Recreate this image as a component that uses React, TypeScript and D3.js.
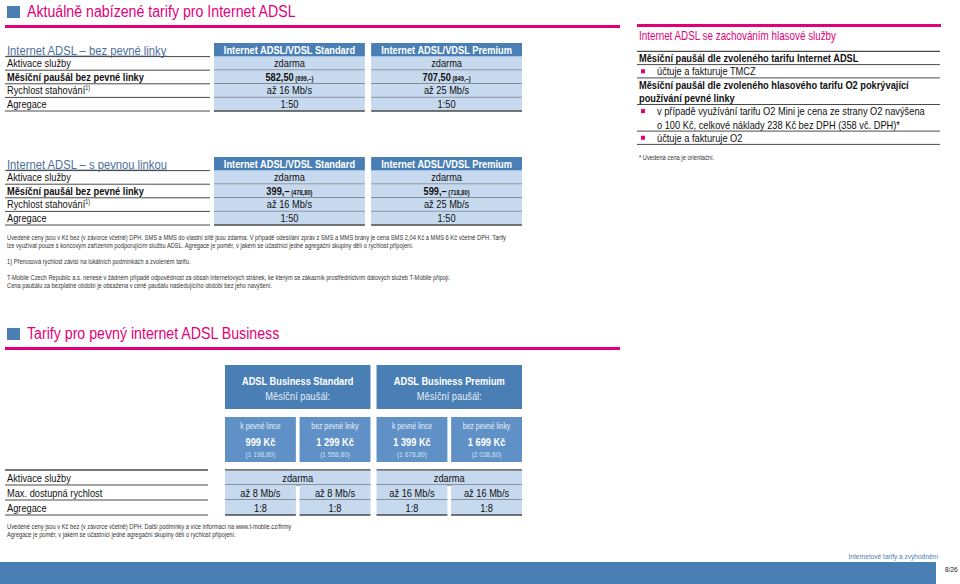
import React from "react";
import * as d3 from "d3";

const MAGENTA = "#e2007a";
const BLUE = "#4a7fb5";
const SUB_BLUE = "#5f91c7";
const CELL = "#c6d9ee";
const RULE = "#4a4a4a";
const FONT = "'Liberation Sans', Arial, sans-serif";
const NARROW = 0.82; // Arial Narrow look

// ADSL / VDSL tables
const adslTariffs = ["Internet ADSL/VDSL Standard", "Internet ADSL/VDSL Premium"];
const adslRowLabels = ["Aktivace služby", "Měsíční paušál bez pevné linky", "Rychlost stahování", "Agregace"];
const adslActivation = ["zdarma", "zdarma"];
const priceBez = ["582,50", "707,50"];
const priceBezVat = ["(699,–)", "(849,–)"];
const priceS = ["399,–", "599,–"];
const priceSVat = ["(478,80)", "(718,80)"];
const adslSpeed = ["až 16 Mb/s", "až 25 Mb/s"];
const adslAggregation = ["1:50", "1:50"];

// right panel
const voiceRows = [
  { text: "Měsíční paušál dle zvoleného tarifu Internet ADSL", bold: true, bullet: false, rule: true },
  { text: "účtuje a fakturuje TMCZ", bold: false, bullet: true, rule: true },
  { text: "Měsíční paušál dle zvoleného hlasového tarifu O2 pokrývající", bold: true, bullet: false, rule: false },
  { text: "používání pevné linky", bold: true, bullet: false, rule: true },
  { text: "v případě využívání tarifu O2 Mini je cena ze strany O2 navýšena", bold: false, bullet: true, rule: false },
  { text: "o 100 Kč, celkové náklady 238 Kč bez DPH (358 vč. DPH)*", bold: false, bullet: false, rule: true },
  { text: "účtuje a fakturuje O2", bold: false, bullet: true, rule: true },
];

// business table
const businessTariffs = ["ADSL Business Standard", "ADSL Business Premium"];
const businessVariants = ["k pevné lince", "bez pevné linky"];
const businessPrice = [["999 Kč", "1 299 Kč"], ["1 399 Kč", "1 699 Kč"]];
const businessPriceVat = [["(1 198,80)", "(1 558,80)"], ["(1 678,80)", "(2 038,80)"]];
const businessRowLabels = ["Aktivace služby", "Max. dostupná rychlost", "Agregace"];
const businessActivation = ["zdarma", "zdarma"];
const businessSpeed = [["až 8 Mb/s", "až 8 Mb/s"], ["až 16 Mb/s", "až 16 Mb/s"]];
const businessAggregation = [["1:8", "1:8"], ["1:8", "1:8"]];

const notesAdsl = [
  "Uvedené ceny jsou v Kč bez (v závorce včetně) DPH. SMS a MMS do vlastní sítě jsou zdarma. V případě odesílání zpráv z SMS a MMS brány je cena SMS 2,04 Kč a MMS 6 Kč včetně DPH. Tarify",
  "lze využívat pouze s koncovým zařízením podporujícím službu ADSL. Agregace je poměr, v jakém se účastníci jedné agregační skupiny dělí o rychlost připojení.",
  "",
  "1) Přenosová rychlost závisí na lokálních podmínkách a zvoleném tarifu.",
  "",
  "T-Mobile Czech Republic a.s. nenese v žádném případě odpovědnost za obsah internetových stránek, ke kterým se zákazník prostřednictvím datových služeb T-Mobile připojí.",
  "Cena paušálu za bezplatné období je obsažena v ceně paušálu následujícího období bez jeho navýšení.",
];
const notesBusiness = [
  "Uvedené ceny jsou v Kč bez (v závorce včetně) DPH. Další podmínky a více informací na www.t-mobile.cz/firmy",
  "Agregace je poměr, v jakém se účastníci jedné agregační skupiny dělí o rychlost připojení.",
];

const LABEL = 11.3;
const NOTE = 7.0;

// condensed text: Liberation Sans squeezed horizontally
function T({ x, y, sx = NARROW, children, ...rest }: any) {
  return (
    <text transform={`translate(${x},${y}) scale(${sx},1)`} {...rest}>
      {children}
    </text>
  );
}

const x = d3.scaleBand<string>().domain(adslTariffs).range([214, 522]).paddingInner(0.04);

function SectionTitle({ y, text }: { y: number; text: string }) {
  return (
    <g>
      <rect x={7} y={y - 11} width={13} height={12} fill={BLUE} />
      <T x={27} y={y} fontSize={17.3} fill={MAGENTA}>{text}</T>
      <rect x={5} y={y + 8} width={615} height={3} fill={MAGENTA} />
    </g>
  );
}

function AdslTable({ top, title, price, vat }: { top: number; title: string; price: string[]; vat: string[] }) {
  const y = d3.scaleBand<string>().domain(["head", ...adslRowLabels]).range([top, top + 68]);
  const values = [adslActivation, price, adslSpeed, adslAggregation];
  const bw = y.bandwidth();
  return (
    <g>
      <T x={7} y={top + 11.5} fontSize={13.7} fill="#4b6f99" textDecoration="underline">{title}</T>
      {y.domain().map((r) => (
        <line key={r} x1={5} x2={210} y1={y(r)! + bw} y2={y(r)! + bw} stroke={RULE} strokeWidth={1} />
      ))}
      {adslRowLabels.map((r, i) => (
        <T key={r} x={7} y={y(r)! + bw - 3} fontSize={LABEL} fontWeight={i === 1 ? "bold" : "normal"} fill="#111">
          {r}
          {i === 2 && <tspan fontSize={6.5} dy={-4}>1)</tspan>}
        </T>
      ))}
      {adslTariffs.map((t, c) => (
        <g key={t}>
          <rect x={x(t)} y={y("head")} width={x.bandwidth()} height={bw} fill={BLUE} />
          <T x={x(t)! + x.bandwidth() / 2} y={y("head")! + bw - 3} fontSize={LABEL} fontWeight="bold" fill="#fff" textAnchor="middle">{t}</T>
          {adslRowLabels.map((r, i) => (
            <g key={r}>
              <rect x={x(t)} y={y(r)} width={x.bandwidth()} height={bw} fill={CELL} />
              <line x1={x(t)} x2={x(t)! + x.bandwidth()} y1={y(r)! + bw} y2={y(r)! + bw} stroke={RULE} strokeWidth={i === 3 ? 1.5 : 1} />
              <T x={x(t)! + x.bandwidth() / 2} y={y(r)! + bw - 3} fontSize={LABEL} fill="#111" textAnchor="middle" fontWeight={i === 1 ? "bold" : "normal"}>
                {values[i][c]}
                {i === 1 && <tspan fontSize={7}>{" " + vat[c]}</tspan>}
              </T>
            </g>
          ))}
        </g>
      ))}
    </g>
  );
}

function VoicePanel() {
  const y = d3.scaleBand<number>().domain(d3.range(voiceRows.length)).range([51.3, 51.3 + 13.3 * voiceRows.length]);
  const bw = y.bandwidth();
  return (
    <g>
      <rect x={637} y={24} width={304} height={3} fill={MAGENTA} />
      <T x={639} y={40} fontSize={12} fill={MAGENTA}>Internet ADSL se zachováním hlasové služby</T>
      <line x1={637} x2={940} y1={51.3} y2={51.3} stroke={RULE} strokeWidth={1.2} />
      {voiceRows.map((r, i) => (
        <g key={i}>
          {r.bullet && <rect x={641} y={y(i)! + bw / 2 - 2} width={4} height={4} fill={MAGENTA} />}
          <T x={r.bold ? 639 : 657} y={y(i)! + bw - 2.5} fontSize={LABEL} fontWeight={r.bold ? "bold" : "normal"} fill="#111">{r.text}</T>
          {r.rule && <line x1={637} x2={940} y1={y(i)! + bw} y2={y(i)! + bw} stroke={RULE} strokeWidth={1} />}
        </g>
      ))}
      <T x={639} y={160} fontSize={NOTE} fill="#333">* Uvedená cena je orientační.</T>
    </g>
  );
}

function BusinessTable() {
  const xb = d3.scaleBand<string>().domain(businessTariffs).range([225, 522]).paddingInner(0.04);
  const xs = d3.scaleBand<string>().domain(businessVariants).range([0, xb.bandwidth()]).paddingInner(0.05);
  const y = d3.scaleBand<string>().domain(businessRowLabels).range([470, 515]);
  const bw = y.bandwidth();
  return (
    <g>
      {businessTariffs.map((t, c) => {
        const x0 = xb(t)!;
        const mid = x0 + xb.bandwidth() / 2;
        return (
          <g key={t}>
            <rect x={x0} y={365} width={xb.bandwidth()} height={44} fill={BLUE} />
            <T x={mid} y={385} fontSize={LABEL} fontWeight="bold" fill="#fff" textAnchor="middle">{t}</T>
            <T x={mid} y={400} fontSize={LABEL} fill="#e4edf7" textAnchor="middle">Měsíční paušál:</T>
            {businessVariants.map((v, k) => {
              const sx = x0 + xs(v)!;
              const cx = sx + xs.bandwidth() / 2;
              return (
                <g key={v}>
                  <rect x={sx} y={417} width={xs.bandwidth()} height={45} fill={SUB_BLUE} />
                  <T x={cx} y={429} fontSize={8.4} fill="#e8f0f9" textAnchor="middle">{v}</T>
                  <T x={cx} y={446} fontSize={LABEL} fontWeight="bold" fill="#fff" textAnchor="middle">{businessPrice[c][k]}</T>
                  <T x={cx} y={457} fontSize={8} fill="#cfe0f2" textAnchor="middle">{businessPriceVat[c][k]}</T>
                </g>
              );
            })}
            <line x1={x0} x2={x0 + xb.bandwidth()} y1={470} y2={470} stroke={RULE} strokeWidth={1.5} />
            <rect x={x0} y={y(businessRowLabels[0])! + 0.75} width={xb.bandwidth()} height={bw - 0.75} fill={CELL} />
            <T x={mid} y={y(businessRowLabels[0])! + bw - 3.5} fontSize={LABEL} fill="#111" textAnchor="middle">{businessActivation[c]}</T>
            <line x1={x0} x2={x0 + xb.bandwidth()} y1={y(businessRowLabels[0])! + bw} y2={y(businessRowLabels[0])! + bw} stroke={RULE} strokeWidth={1} />
            {[businessSpeed, businessAggregation].map((vals, i) => {
              const r = businessRowLabels[i + 1];
              return businessVariants.map((v, k) => (
                <g key={r + v}>
                  <rect x={x0 + xs(v)!} y={y(r)} width={xs.bandwidth()} height={bw} fill={CELL} />
                  <T x={x0 + xs(v)! + xs.bandwidth() / 2} y={y(r)! + bw - 3.5} fontSize={LABEL} fill="#111" textAnchor="middle">{vals[c][k]}</T>
                  <line x1={x0 + xs(v)!} x2={x0 + xs(v)! + xs.bandwidth()} y1={y(r)! + bw} y2={y(r)! + bw} stroke={RULE} strokeWidth={i === 1 ? 1.5 : 1} />
                </g>
              ));
            })}
          </g>
        );
      })}
      <line x1={5} x2={208} y1={470} y2={470} stroke={RULE} strokeWidth={1.5} />
      {businessRowLabels.map((r) => (
        <g key={r}>
          <T x={7} y={y(r)! + bw - 3.5} fontSize={LABEL} fill="#111">{r}</T>
          <line x1={5} x2={208} y1={y(r)! + bw} y2={y(r)! + bw} stroke={RULE} strokeWidth={1} />
        </g>
      ))}
    </g>
  );
}

export default function App() {
  return (
    <svg width={960} height={584} style={{ position: "absolute", left: 0, top: 0, background: "#fff" }} fontFamily={FONT}>
      <SectionTitle y={17} text="Aktuálně nabízené tarify pro Internet ADSL" />
      <AdslTable top={43} title="Internet ADSL – bez pevné linky" price={priceBez} vat={priceBezVat} />
      <AdslTable top={157} title="Internet ADSL – s pevnou linkou" price={priceS} vat={priceSVat} />
      {notesAdsl.map((t, i) => (
        <T key={i} x={7} y={240 + i * 8} fontSize={NOTE} fill="#333">{t}</T>
      ))}
      <VoicePanel />
      <SectionTitle y={339} text="Tarify pro pevný internet ADSL Business" />
      <BusinessTable />
      {notesBusiness.map((t, i) => (
        <T key={i} x={7} y={529 + i * 8} fontSize={NOTE} fill="#333">{t}</T>
      ))}
      <T x={938} y={559} fontSize={8} fill={BLUE} textAnchor="end">Internetové tarify a zvýhodnění</T>
      <rect x={0} y={562} width={936} height={22} fill={BLUE} />
      <T x={945} y={572} fontSize={8} fill="#222">8/26</T>
    </svg>
  );
}
